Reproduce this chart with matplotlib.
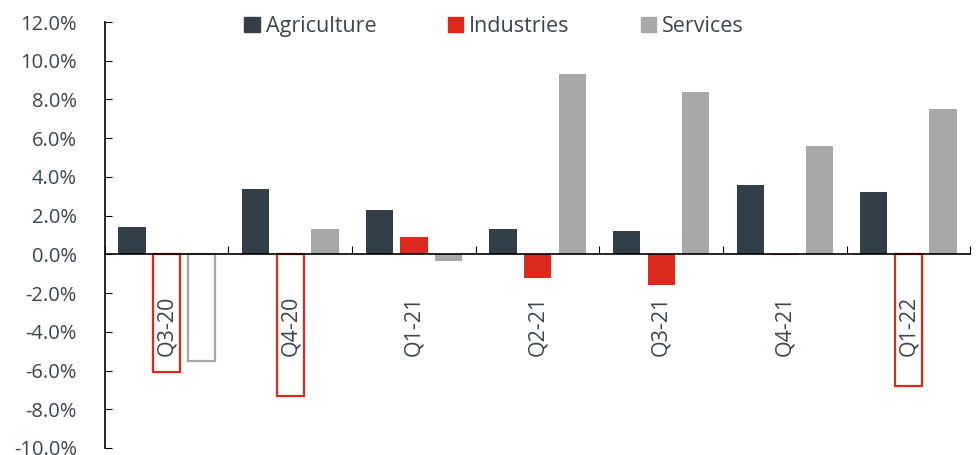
import matplotlib.pyplot as plt
from matplotlib.patches import Patch
from matplotlib.ticker import FuncFormatter

quarters = ['Q3-20', 'Q4-20', 'Q1-21', 'Q2-21', 'Q3-21', 'Q4-21', 'Q1-22']
agriculture = [1.4, 3.4, 2.3, 1.3, 1.2, 3.6, 3.2]
industries = [-6.1, -7.3, 0.9, -1.2, -1.6, -0.05, -6.8]
services = [-5.5, 1.3, -0.35, 9.3, 8.4, 5.6, 7.5]

# bars drawn as outlines only (series name -> quarter indices)
hollow = {'Industries': [0, 1, 6], 'Services': [0]}

plt.rcParams['font.family'] = ['Open Sans', 'DejaVu Sans']
text_color = '#3b4550'

fig = plt.figure(figsize=(9.8, 4.55), dpi=100)
ax = fig.add_axes([0.107, 0.0154, 0.883, 0.9362])

series = [('Agriculture', agriculture, '#333f48'),
          ('Industries', industries, '#dc291e'),
          ('Services', services, '#a7a8aa')]
width = 0.22
step = 0.28
for k, (name, values, color) in enumerate(series):
    for i, v in enumerate(values):
        x = i + (k - 1) * step
        if i in hollow.get(name, []):
            ax.bar(x, v, width, facecolor='white', edgecolor=color, linewidth=1.6)
        else:
            ax.bar(x, v, width, color=color, linewidth=0)

for i, q in enumerate(quarters):
    ax.text(i, -3.7, q, rotation=90, ha='center', va='center',
            fontsize=15.5, color=text_color)

ax.set_xlim(-0.5, len(quarters) - 0.5)
ax.set_ylim(-10, 12)
ax.set_yticks(range(-10, 13, 2))
ax.yaxis.set_major_formatter(FuncFormatter(lambda v, _: f'{v:.1f}%'))
ax.tick_params(axis='y', direction='in', length=5, labelsize=14.5,
               labelcolor=text_color, pad=20)
ax.set_xticks([i - 0.5 for i in range(len(quarters) + 1)])
ax.set_xticklabels([])
ax.tick_params(axis='x', direction='in', length=6)
ax.spines['bottom'].set_position(('data', 0))
ax.spines['top'].set_visible(False)
ax.spines['right'].set_visible(False)
ax.spines['left'].set_linewidth(1.2)
ax.spines['bottom'].set_linewidth(1.2)

handles = [Patch(color=c, label=n) for n, _, c in series]
ax.legend(handles=handles, loc='center', bbox_to_anchor=(0.45, 0.99), ncol=3,
          frameon=False, fontsize=15.5, handlelength=0.7, handleheight=0.7,
          handletextpad=0.3, columnspacing=3.3, labelcolor=text_color)

fig.savefig('out.png')
